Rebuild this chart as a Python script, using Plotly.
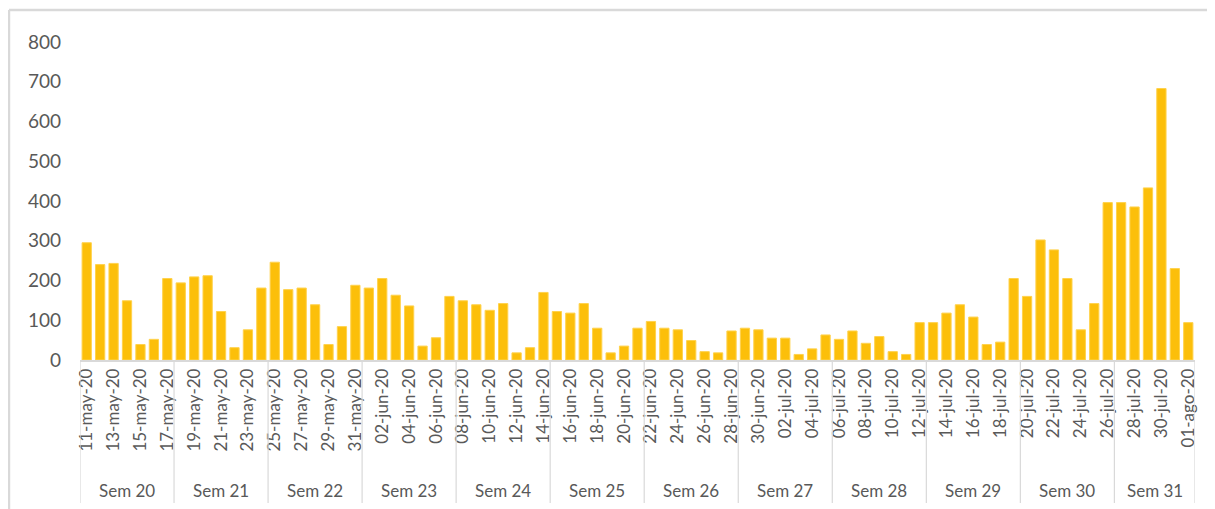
import plotly.graph_objects as go
import pandas as pd

# ---- data ----
start_date = "2020-05-11"
end_date = "2020-08-01"
month_abbr = {5: "may", 6: "jun", 7: "jul", 8: "ago"}

values = [
    295, 240, 243, 149, 39, 52, 205,        # Sem 20
    194, 209, 212, 122, 31, 76, 181,        # Sem 21
    246, 177, 181, 139, 39, 84, 188,        # Sem 22
    181, 205, 163, 136, 35, 56, 160,        # Sem 23
    149, 139, 125, 142, 18, 31, 170,        # Sem 24
    122, 118, 142, 80, 18, 35, 80,          # Sem 25
    97, 80, 76, 49, 21, 18, 73,             # Sem 26
    80, 76, 55, 55, 14, 28, 63,             # Sem 27
    52, 73, 42, 59, 21, 14, 94,             # Sem 28
    94, 118, 139, 108, 39, 45, 205,         # Sem 29
    160, 302, 277, 205, 76, 142, 396,       # Sem 30
    396, 385, 433, 683, 230, 94,            # Sem 31
]

week_labels = ["Sem 20", "Sem 21", "Sem 22", "Sem 23", "Sem 24", "Sem 25",
               "Sem 26", "Sem 27", "Sem 28", "Sem 29", "Sem 30", "Sem 31"]
week_sizes = [7, 7, 7, 7, 7, 7, 7, 7, 7, 7, 7, 6]

y_ticks = [0, 100, 200, 300, 400, 500, 600, 700, 800]

# ---- derived labels ----
dates = pd.date_range(start_date, end_date, freq="D")
date_labels = [f"{d.day:02d}-{month_abbr[d.month]}-{d.strftime('%y')}" for d in dates]
x_idx = list(range(len(values)))

TEXT = "#595959"
GRID = "#D9D9D9"
FONT = "Lato"

fig = go.Figure()
fig.add_trace(go.Bar(
    x=x_idx, y=values,
    marker=dict(color="#FCBF0A", line=dict(color="#FFD24D", width=1)),
    hoverinfo="y",
))

# week dividers and labels
bounds = [-0.5]
for s in week_sizes:
    bounds.append(bounds[-1] + s)

shapes = []
for b in bounds:
    shapes.append(dict(type="line", xref="x", yref="paper", x0=b, x1=b,
                       y0=0, y1=-0.45, line=dict(color=GRID, width=1.2)))
annotations = []
for i, lab in enumerate(week_labels):
    annotations.append(dict(x=(bounds[i] + bounds[i + 1]) / 2, y=-0.409,
                            xref="x", yref="paper", text=lab, showarrow=False,
                            font=dict(family=FONT, size=17, color=TEXT),
                            xanchor="center", yanchor="middle"))

# outer frame (top and left edges)
shapes.append(dict(type="line", xref="paper", yref="paper",
                   x0=-0.0637, x1=1.02, y0=1.1006, y1=1.1006,
                   line=dict(color=GRID, width=2.5)))
shapes.append(dict(type="line", xref="paper", yref="paper",
                   x0=-0.0637, x1=-0.0637, y0=1.1006, y1=-0.47,
                   line=dict(color=GRID, width=2.5)))

fig.update_layout(
    width=1207, height=501,
    margin=dict(l=72, r=20, t=34, b=149),
    paper_bgcolor="white", plot_bgcolor="white",
    bargap=0.31,
    showlegend=False,
    shapes=shapes,
    annotations=annotations,
    xaxis=dict(
        range=[-0.5, len(values) - 0.5],
        tickmode="array",
        tickvals=x_idx[::2],
        ticktext=date_labels[::2],
        tickangle=-90,
        tickfont=dict(family=FONT, size=17, color=TEXT),
        showline=True, linecolor=GRID, linewidth=1.5,
        showgrid=False, zeroline=False, ticks="",
    ),
    yaxis=dict(
        range=[0, 800],
        tickmode="array",
        tickvals=y_ticks,
        tickfont=dict(family=FONT, size=19, color=TEXT),
        showgrid=False, zeroline=False, showline=False,
        ticks="", ticklabelstandoff=18,
    ),
)

fig.write_html("out.html")
